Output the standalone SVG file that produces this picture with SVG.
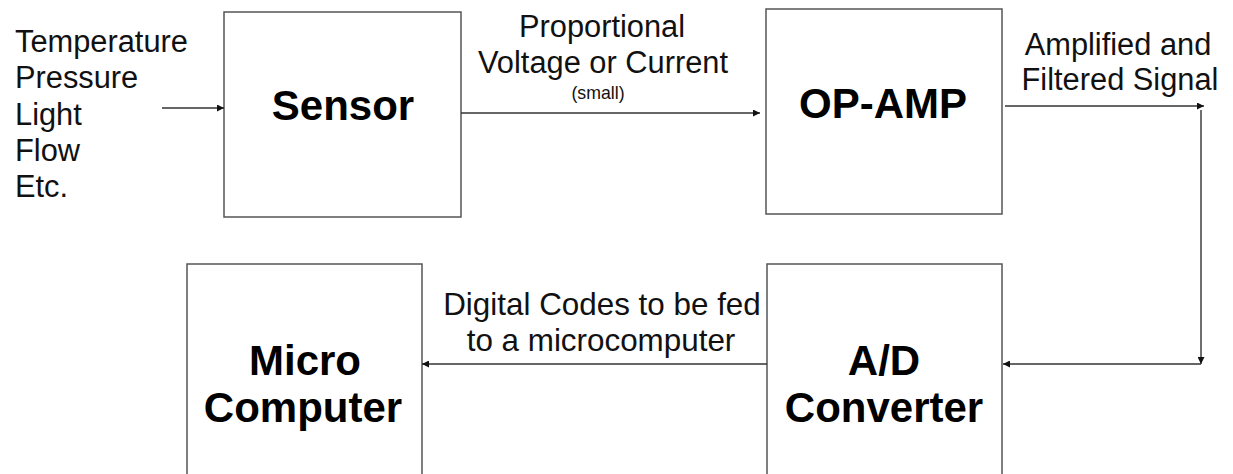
<svg xmlns="http://www.w3.org/2000/svg" width="1233" height="474" viewBox="0 0 1233 474">
<defs>
<style>
.box{fill:#fff;stroke:#555;stroke-width:1.5}
.lbl{font-family:"Liberation Sans",Arial,sans-serif;font-size:30.8px;fill:#111}
.sm{font-family:"Liberation Sans",Arial,sans-serif;font-size:17.7px;fill:#111}
.bold{font-family:"Liberation Sans",Arial,sans-serif;font-size:42px;font-weight:bold;fill:#000}
.c{text-anchor:middle}
.wire{fill:none;stroke:#333;stroke-width:1.4}
</style>
<marker id="ah" viewBox="0 0 10 10" refX="10" refY="5" markerWidth="9" markerHeight="7" markerUnits="userSpaceOnUse" orient="auto">
<path d="M0,0 L10,5 L0,10 z" fill="#111"/>
</marker>
</defs>
<rect width="1233" height="474" fill="#fff"/>

<g id="inputs">
<text class="lbl" x="15" y="52">Temperature</text>
<text class="lbl" x="15" y="88">Pressure</text>
<text class="lbl" x="15" y="125">Light</text>
<text class="lbl" x="15" y="161">Flow</text>
<text class="lbl" x="15" y="197">Etc.</text>
</g>

<g id="sensor">
<rect class="box" x="224" y="12" width="237" height="205"/>
<text class="bold c" x="343" y="120">Sensor</text>
</g>

<g id="opamp">
<rect class="box" x="766" y="9" width="236" height="205"/>
<text class="bold c" x="883" y="118">OP-AMP</text>
</g>

<g id="adc">
<rect class="box" x="767" y="264" width="235" height="230"/>
<text class="bold c" x="884" y="375">A/D</text>
<text class="bold c" x="884" y="422">Converter</text>
</g>

<g id="micro">
<rect class="box" x="187" y="264" width="235" height="230"/>
<text class="bold c" x="305" y="375">Micro</text>
<text class="bold c" x="303" y="422">Computer</text>
</g>

<g id="connectors">
<line class="wire" x1="162" y1="108" x2="224" y2="108" marker-end="url(#ah)"/>
<line class="wire" x1="461" y1="113" x2="760" y2="113" marker-end="url(#ah)"/>
<line class="wire" x1="1005" y1="106" x2="1204" y2="106" marker-end="url(#ah)"/>
<line class="wire" x1="1201" y1="110" x2="1201" y2="364" marker-end="url(#ah)"/>
<line class="wire" x1="1201" y1="364" x2="1003" y2="364" marker-end="url(#ah)"/>
<line class="wire" x1="767" y1="364" x2="422" y2="364" marker-end="url(#ah)"/>
</g>

<g id="labels">
<text class="lbl c" x="602" y="37">Proportional</text>
<text class="lbl c" x="603" y="73">Voltage or Current</text>
<text class="sm c" x="598" y="99">(small)</text>
<text class="lbl c" x="1118" y="55">Amplified and</text>
<text class="lbl c" x="1120" y="90">Filtered Signal</text>
<text class="lbl c" x="602" y="315" style="font-size:31.4px">Digital Codes to be fed</text>
<text class="lbl c" x="601" y="351" style="font-size:31.4px">to a microcomputer</text>
</g>
</svg>
